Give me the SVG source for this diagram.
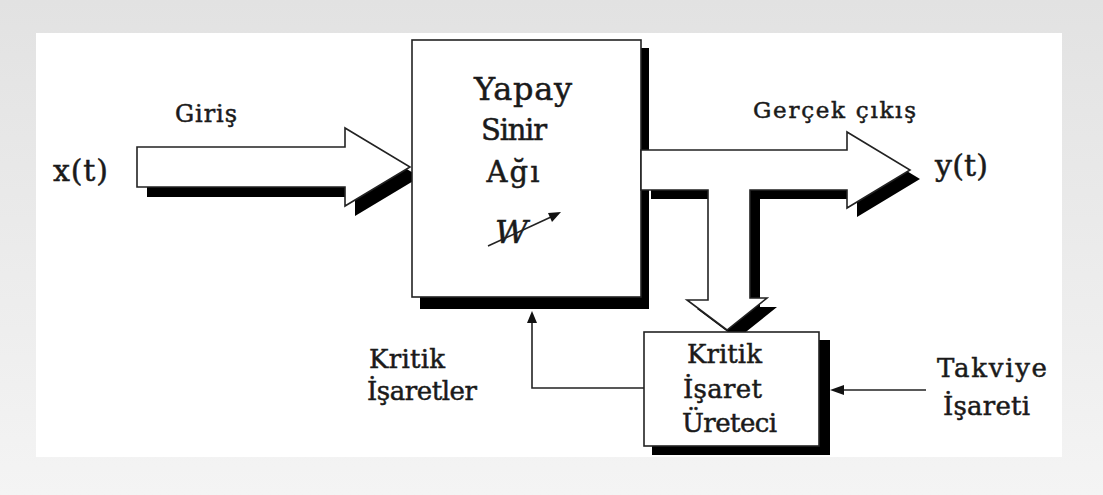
<svg xmlns="http://www.w3.org/2000/svg" width="1103" height="495" viewBox="0 0 1103 495">
<defs>
<linearGradient id="frame" x1="0" y1="0" x2="0" y2="1">
<stop offset="0" stop-color="#e2e2e2"/>
<stop offset="1" stop-color="#f4f4f4"/>
</linearGradient>
<style>
.ln{fill:none;stroke:#222;stroke-width:1.6}
.box{fill:#fff;stroke:#222;stroke-width:1.6}
.sh{fill:#000}
.ah{fill:#111}
text{font-family:"DejaVu Serif","Liberation Serif",serif;fill:#1a1a1a;stroke:#1a1a1a;stroke-width:0.5}
.m{text-anchor:middle}
</style>
</defs>
<rect x="0" y="0" width="1103" height="495" fill="url(#frame)"/>
<rect x="36" y="33" width="1026" height="424" fill="#fff"/>

<g id="connectors">
<g id="input-arrow">
<polygon class="sh" points="147,157 355,157 355,138 420,177 355,216 355,197 147,197"/>
<polygon class="box" points="137,147 345,147 345,128 410,167 345,206 345,187 137,187"/>
</g>
<g id="feedback">
<polyline class="ln" points="644,388 532,388 532,322"/>
<polygon class="ah" points="532,311 527,323 537,323"/>
</g>
<g id="reinforcement">
<line class="ln" x1="926" y1="390" x2="842" y2="390"/>
<polygon class="ah" points="830,390 844,385 844,395"/>
</g>
</g>

<g id="main-box">
<rect class="sh" x="420" y="48" width="229" height="261"/>
<rect class="box" x="412" y="40" width="229" height="257"/>
<text class="m" x="523" y="100" font-size="32" textLength="98">Yapay</text>
<text class="m" x="514" y="140" font-size="29" textLength="66">Sinir</text>
<text class="m" x="513" y="182" font-size="29" textLength="53">Ağı</text>
<text x="495" y="243" font-size="32" font-style="italic" textLength="34">W</text>
<line class="ln" x1="488" y1="246" x2="551" y2="217"/>
<polygon class="ah" points="561,212 548,213 552,222"/>
</g>

<g id="output-arrow">
<polygon class="sh" points="651,159 857,159 857,141 920,179 857,217 857,199 760,199 760,307 777,307 737,339 697,309 718,309 718,199 651,199"/>
<polygon class="box" points="641,150 847,150 847,132 910,170 847,208 847,190 750,190 750,298 767,298 727,330 687,300 708,300 708,190 641,190"/>
</g>

<g id="critic-box">
<rect class="sh" x="652" y="340" width="178" height="115"/>
<rect class="box" x="644" y="332" width="175" height="114"/>
<text x="687" y="363" font-size="26" textLength="75">Kritik</text>
<text x="683" y="398" font-size="26" textLength="79">İşaret</text>
<text x="682" y="432" font-size="26" textLength="95">Üreteci</text>
</g>

<g id="labels">
<text x="53" y="181" font-size="30" textLength="55">x(t)</text>
<text x="175" y="122" font-size="24" textLength="62">Giriş</text>
<text x="753" y="118" font-size="23" textLength="163">Gerçek çıkış</text>
<text x="935" y="176" font-size="30" textLength="53">y(t)</text>
<text x="369" y="368" font-size="26" textLength="76">Kritik</text>
<text x="367" y="400" font-size="26" textLength="110">İşaretler</text>
<text x="937" y="377" font-size="26" textLength="110">Takviye</text>
<text x="943" y="415" font-size="26" textLength="87">İşareti</text>
</g>
</svg>
